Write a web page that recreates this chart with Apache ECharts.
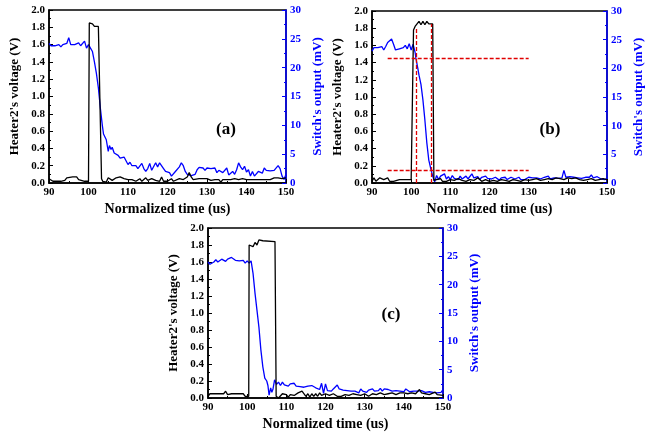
<!DOCTYPE html>
<html>
<head>
<meta charset="utf-8">
<script src="https://cdn.jsdelivr.net/npm/echarts@6/dist/echarts.min.js"></script>
<style>
    html, body { margin: 0; padding: 0; background: #fff; }
    #chart { width: 646px; height: 441px; }
</style>
</head>
<body>
<div id="chart"></div>
<script>
// 三幅子图的数据: [时间 us, 值]
const heaterA = [[90,0.05],[90.5,0.04],[91,0.02],[92,0.02],[93,0.02],[93.5,0.01],[94,0.03],[94.5,0.06],[95,0.07],[96,0.07],[96.5,0.05],[97,0.07],[97.5,0.04],[98,0.03],[99,0.02],[100,0.02],[100.2,1.85],[100.6,1.83],[101,1.84],[101.5,1.81],[102,1.83],[102.5,1.81],[103,1.82],[103.3,0.05],[103.6,0.02],[104,0.03],[104.5,0.01],[105,0.06],[105.5,0.07],[106,0.03],[106.5,0.02],[107,0.06],[107.5,0.07],[108,0.07],[109,0.05],[110,0.04],[111,0.04],[111.5,0.02],[112,0.02],[113,0.05],[113.5,0.02],[114,0.03],[114.5,0.06],[115,0.03],[115.5,0.02],[116,0.05],[117,0.03],[118,0.02],[118.5,0.07],[119,0.02],[120,0.02],[121,0.05],[121.5,0.02],[122,0.04],[123,0.05],[124,0.04],[125,0.07],[125.5,0.12],[126,0.07],[126.5,0.04],[127,0.05],[128,0.05],[129,0.05],[130,0.05],[131,0.03],[132,0.04],[133,0.04],[133.5,0.01],[134,0.04],[135,0.04],[136,0.04],[137,0.05],[138,0.04],[139,0.05],[140,0.04],[141,0.04],[142,0.04],[143,0.04],[144,0.04],[145,0.04],[146,0.04],[147,0.06],[148,0.06],[148.5,0.08],[149,0.05],[149.5,0.04],[150,0.06]];
const switchA = [[90,24.2],[90.5,23.8],[91,23.8],[91.5,23.8],[92,23.8],[92.5,24],[93,23.6],[93.5,24],[94,24],[94.5,24.2],[95,25.2],[95.5,24],[96,24],[96.5,24],[97,24],[97.5,24.3],[98,23.8],[98.5,24],[99,24.6],[99.5,23.4],[100,24],[100.5,23.4],[101,22.8],[101.5,21],[102,19],[102.5,16.5],[103,13],[103.5,10],[103.8,8.5],[104,8.2],[104.5,7.5],[105,5.5],[105.3,6.5],[105.7,5.8],[106,6.2],[106.5,5.2],[107,5.5],[107.5,4.8],[108,4.3],[108.5,4],[109,4.5],[109.5,4.8],[110,3.2],[110.5,3.6],[111,3],[111.5,3],[112,3],[112.5,2.5],[113,2.6],[113.5,3.4],[114,2.5],[114.5,2],[115,2.5],[115.5,3.4],[116,2.2],[116.5,2.4],[117,3.5],[117.5,2.8],[118,3.5],[118.5,3.5],[119,2.5],[119.5,2],[120,2.3],[120.5,1.8],[121,1.2],[121.5,1.5],[122,2],[122.5,1.8],[123,2.8],[123.5,3.5],[124,3],[124.5,2],[125,1.5],[125.5,1.7],[126,1.3],[126.5,1.6],[127,1.5],[127.5,2.3],[128,2.7],[128.5,2.4],[129,2.6],[129.5,2.2],[130,2.6],[130.5,2.3],[131,2.5],[131.5,2.2],[132,2.6],[132.5,1.8],[133,2.2],[133.5,2.4],[134,1.8],[134.5,1.9],[135,2.6],[135.5,1.4],[136,1.7],[136.5,2],[137,1.5],[137.5,2.3],[138,3.5],[138.5,2.8],[139,2.3],[139.5,2.9],[140,1.9],[140.5,2.3],[141,1.2],[141.5,2],[142,1.2],[142.5,1.5],[143,2],[143.5,2.3],[144,1.7],[144.5,2.6],[145,2.2],[145.5,2.5],[146,2.1],[146.5,2.4],[147,2.2],[147.5,2.5],[148,3],[148.5,2.5],[149,1.2],[149.5,0.6],[150,1.5]];

const heaterB = [[90,0.02],[90.5,0.06],[91,0.02],[91.5,0.04],[92,0.06],[92.5,0.04],[93,0.04],[93.5,0.06],[94,0.06],[94.5,0.02],[95,0.02],[95.5,0.02],[96,0.04],[97,0.04],[98,0.04],[99,0.04],[100,0.04],[100.5,0.04],[100.6,1.78],[101,1.82],[101.5,1.83],[102,1.88],[102.5,1.84],[103,1.88],[103.5,1.84],[104,1.88],[104.5,1.85],[105,1.86],[105.5,1.85],[105.8,0.03],[106,0.01],[106.5,0.04],[107,0.02],[107.5,0.05],[108,0.02],[108.5,0.04],[109,0.02],[110,0.04],[111,0.03],[112,0.05],[113,0.03],[114,0.02],[115,0.04],[116,0.03],[117,0.06],[118,0.02],[119,0.04],[120,0.02],[121,0.03],[122,0.02],[123,0.04],[124,0.03],[125,0.02],[126,0.04],[127,0.03],[128,0.02],[129,0.04],[130,0.03],[131,0.04],[132,0.05],[133,0.03],[134,0.04],[135,0.05],[136,0.04],[137,0.06],[138,0.05],[139,0.04],[140,0.06],[141,0.05],[142,0.06],[143,0.04],[144,0.03],[144.5,0.01],[145,0.04],[146,0.05],[147,0.03],[148,0.04],[149,0.05],[150,0.04]];
const switchB = [[90,23],[90.5,23.6],[91,23.5],[91.5,23.6],[92,23.3],[92.5,23.8],[93,23.2],[93.5,23.8],[94,24.5],[94.5,24.8],[95,25.1],[95.5,24.2],[96,23.2],[96.5,23.3],[97,23.4],[97.5,23.2],[98,23.6],[98.5,24],[99,23.4],[99.5,24.3],[100,23.2],[100.5,24.2],[101,22.8],[101.2,21.8],[101.7,20],[102,18.8],[102.5,17.2],[103,14.5],[103.5,11],[104,7],[104.5,4],[105,2.5],[105.5,1.2],[106,0.2],[106.5,1.3],[107,0.6],[107.5,1.2],[108,0.9],[108.5,1.6],[109,0.7],[109.5,1.1],[110,0.6],[110.5,1.3],[111,0.8],[111.5,0.9],[112,0.6],[112.5,1.2],[113,0.7],[113.5,1],[114,1.2],[114.5,0.7],[115,1],[115.5,1.6],[116,0.9],[116.5,0.8],[117,1.1],[117.5,0.6],[118,1],[118.5,0.9],[119,1.2],[119.5,0.8],[120,1],[120.5,0.7],[121,0.9],[121.5,1],[122,0.8],[122.5,0.5],[123,0.9],[123.5,0.8],[124,1],[124.5,0.6],[125,0.8],[125.5,1],[126,0.8],[126.5,0.7],[127,0.8],[127.5,1],[128,0.6],[128.5,0.9],[129,0.6],[129.5,0.8],[130,1],[130.5,0.8],[131,0.9],[131.5,0.6],[132,0.9],[132.5,1],[133,0.7],[133.5,0.9],[134,1],[134.5,0.8],[135,1.2],[135.5,0.7],[136,1],[136.5,0.9],[137,1.1],[137.5,0.8],[138,1.1],[138.5,0.9],[139,2.2],[139.5,1],[140,0.9],[140.5,1.1],[141,0.8],[141.5,1],[142,0.7],[142.5,0.9],[143,1.1],[143.5,0.8],[144,0.9],[144.5,1],[145,0.7],[145.5,1],[146,1.4],[146.5,0.9],[147,0.8],[147.5,1.1],[148,0.9],[148.5,0.7],[149,1],[149.5,0.6],[150,0.8]];
// (b) 图中的红色虚线: [[起点], [终点]]
const refLinesB = [
    [[94, 1.45], [130, 1.45]],
    [[94, 0.15], [130, 0.15]],
    [[101.2, 0], [101.2, 1.79]],
    [[105.1, 0], [105.1, 1.85]]
];

const heaterC = [[90,0.02],[90.5,0.05],[91,0.05],[92,0.05],[93,0.05],[94,0.05],[94.5,0.08],[95,0.04],[95.5,0.03],[96,0.05],[97,0.05],[98,0.05],[99,0.05],[99.5,0.02],[100,0.03],[100.4,0.02],[100.5,1.8],[101,1.82],[101.5,1.78],[102,1.83],[102.5,1.8],[103,1.86],[103.5,1.84],[104,1.85],[104.5,1.84],[107.1,1.84],[107.4,0.02],[108,0],[108.5,0.02],[109,0.05],[110,0.04],[110.5,0.01],[111,0.04],[111.5,0.05],[112,0.03],[113,0.06],[114,0.08],[114.5,0.08],[115,0.02],[115.5,0.05],[116,0.01],[116.5,0.05],[117,0.02],[117.5,0.05],[118,0.02],[118.5,0.06],[119,0.03],[120,0.05],[121,0.03],[122,0.05],[123,0.02],[124,0.02],[125,0.04],[126,0.03],[127,0.05],[128,0.04],[129,0.03],[130,0.05],[131,0.02],[132,0.05],[133,0.04],[134,0.06],[135,0.04],[136,0.05],[137,0.06],[138,0.04],[139,0.06],[140,0.06],[141,0.05],[142,0.06],[143,0.05],[144,0.1],[144.5,0.06],[145,0.07],[145.5,0.05],[146,0.07],[146.5,0.04],[147,0.03],[148,0.07],[148.5,0.04],[149,0.02],[150,0.03]];
const switchC = [[90,24],[90.5,23.6],[91,23.5],[91.5,24],[92,24.4],[92.5,24],[93,23.8],[93.5,24.5],[94,24.6],[94.5,24.1],[95,24.5],[95.5,24.4],[96,24.8],[96.5,24.5],[97,24.3],[97.5,24.6],[98,24.2],[98.5,24.1],[99,24.3],[99.5,23.8],[100,24.2],[100.5,23.8],[101,24.2],[101.5,22],[102,18.5],[102.5,15.5],[103,12.5],[103.5,8.5],[104,5.5],[104.5,3.5],[105,3],[105.3,2.2],[105.6,0.5],[106,1.8],[106.3,1],[106.6,1.6],[107,3.2],[107.5,2.4],[108,2.8],[108.5,2.2],[109,2.8],[109.5,2.3],[110,2.6],[110.5,2.1],[111,2.5],[111.5,2.3],[112,2.6],[112.5,2.1],[113,2.3],[113.5,2],[114,2.3],[114.5,1.9],[115,2.2],[115.5,2.1],[116,1.8],[116.5,2.2],[117,1.9],[117.5,1.8],[118,2.1],[118.5,1.5],[119,2.6],[119.5,0.8],[120,2.5],[120.5,1.3],[121,1.5],[121.5,1.2],[122,1.6],[122.5,1.3],[123,2.3],[123.5,1.6],[124,1.8],[124.5,1.4],[125,1.6],[125.5,1.3],[126,1.6],[126.5,1.2],[127,1.5],[127.5,1.2],[128,1.3],[128.5,0.9],[129,1.6],[129.5,1.2],[130,1.5],[130.5,1],[131,1.4],[131.5,1.3],[132,1.6],[132.5,1.2],[133,1.5],[133.5,1.3],[134,1.7],[134.5,1.2],[135,1.6],[135.5,1.3],[136,1.5],[136.5,1.7],[137,1.2],[137.5,1.5],[138,1.3],[138.5,1.6],[139,1.2],[139.5,1.5],[140,1.1],[140.5,1.6],[141,1.3],[141.5,1.1],[142,1.4],[142.5,1.2],[143,1.4],[143.5,1.2],[144,1.1],[144.5,1.3],[145,1.6],[145.5,1],[146,1.3],[146.5,1.1],[147,1.2],[147.5,1],[148,1.2],[148.5,0.9],[149,1.1],[149.5,1],[150,1.5]];

const panelLabels = ['(a)', '(b)', '(c)'];
const labelPos = [[226, 130], [550, 130], [391, 315]];
const xName = 'Normalized time (us)';
const leftName = "Heater2's voltage (V)";
const rightName = "Switch's output (mV)";

const FONT = 'Liberation Serif';
const BLUE = '#0000ff';

let chartDom = document.getElementById('chart');
let myChart = echarts.init(chartDom);

const grids = [
    {left: 49, top: 10, width: 237, height: 173},
    {left: 372, top: 11, width: 237, height: 172},
    {left: 208, top: 228, width: 235, height: 170}
];

function xAxisFor(i) {
    return {
        type: 'value', gridIndex: i, min: 90, max: 150, interval: 10,
        name: xName, nameLocation: 'middle', nameGap: 19,
        nameTextStyle: {fontFamily: FONT, fontWeight: 'bold', fontSize: 14, color: '#000'},
        axisLine: {lineStyle: {color: '#000', width: 1.5}},
        axisTick: {inside: true, length: 4, lineStyle: {color: '#000'}},
        minorTick: {show: true, splitNumber: 2, length: 2, lineStyle: {color: '#000'}},
        axisLabel: {fontFamily: FONT, fontWeight: 'bold', fontSize: 11, color: '#000', margin: 4},
        splitLine: {show: false}
    };
}

function leftAxisFor(i) {
    return {
        type: 'value', gridIndex: i, min: 0, max: 2.0, interval: 0.2, position: 'left',
        name: leftName, nameLocation: 'middle', nameGap: 28,
        nameTextStyle: {fontFamily: FONT, fontWeight: 'bold', fontSize: 13, color: '#000'},
        axisLine: {show: true, lineStyle: {color: '#000', width: 1.5}},
        axisTick: {inside: true, length: 4, lineStyle: {color: '#000'}},
        minorTick: {show: true, splitNumber: 2, length: 2, lineStyle: {color: '#000'}},
        axisLabel: {fontFamily: FONT, fontWeight: 'bold', fontSize: 11, color: '#000', margin: 4,
            formatter: v => v.toFixed(1)},
        splitLine: {show: false}
    };
}

function rightAxisFor(i) {
    return {
        type: 'value', gridIndex: i, min: 0, max: 30, interval: 5, position: 'right',
        name: rightName, nameLocation: 'middle', nameGap: 25, nameRotate: 90,
        nameTextStyle: {fontFamily: FONT, fontWeight: 'bold', fontSize: 13, color: BLUE},
        axisLine: {show: true, lineStyle: {color: BLUE, width: 1.5}},
        axisTick: {inside: true, length: 4, lineStyle: {color: BLUE}},
        minorTick: {show: true, splitNumber: 2, length: 2, lineStyle: {color: BLUE}},
        axisLabel: {fontFamily: FONT, fontWeight: 'bold', fontSize: 11, color: BLUE, margin: 4},
        splitLine: {show: false}
    };
}

const heaters = [heaterA, heaterB, heaterC];
const switches = [switchA, switchB, switchC];

let xAxes = [], yAxes = [], series = [];
for (let i = 0; i < 3; i++) {
    xAxes.push(xAxisFor(i));
    yAxes.push(leftAxisFor(i));
    yAxes.push(rightAxisFor(i));
    series.push({
        type: 'line', xAxisIndex: i, yAxisIndex: i * 2, data: heaters[i],
        showSymbol: false, silent: true, z: 3,
        lineStyle: {color: '#000', width: 1.3}
    });
    series.push({
        type: 'line', xAxisIndex: i, yAxisIndex: i * 2 + 1, data: switches[i],
        showSymbol: false, silent: true, z: 2,
        lineStyle: {color: BLUE, width: 1.3}
    });
}

// 红色虚线画在 (b) 上
series[2].markLine = {
    silent: true, symbol: 'none', animation: false,
    label: {show: false},
    lineStyle: {color: '#e00000', type: [4, 2], width: 1.3},
    data: refLinesB.map(seg => [{coord: seg[0]}, {coord: seg[1]}])
};

let option = {
    animation: false,
    backgroundColor: '#fff',
    grid: grids.map(g => Object.assign({show: true, borderColor: '#000', borderWidth: 1.5, backgroundColor: 'transparent'}, g)),
    xAxis: xAxes,
    yAxis: yAxes,
    graphic: panelLabels.map((t, i) => ({
        type: 'text', x: labelPos[i][0], y: labelPos[i][1],
        style: {text: t, fontFamily: FONT, fontWeight: 'bold', fontSize: 17, fill: '#000',
            align: 'center', verticalAlign: 'middle'}
    })),
    series: series
};

option && myChart.setOption(option);
</script>
</body>
</html>
